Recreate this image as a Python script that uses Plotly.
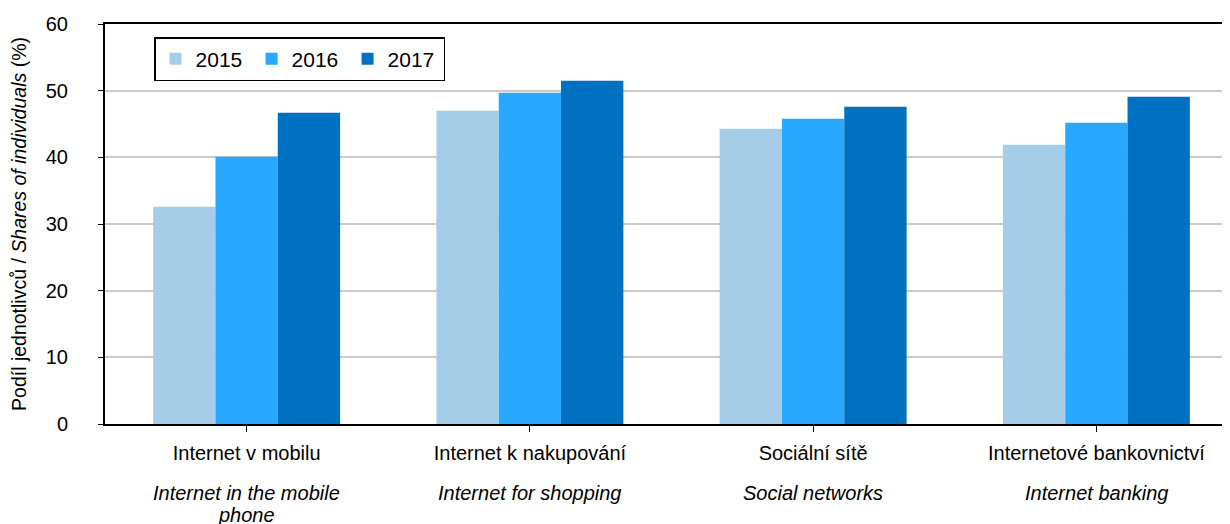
import plotly.graph_objects as go

categories_cz = ["Internet v mobilu", "Internet k nakupování", "Sociální sítě", "Internetové bankovnictví"]
categories_en = [["Internet in the mobile", "phone"], ["Internet for shopping"], ["Social networks"], ["Internet banking"]]
years = ["2015", "2016", "2017"]
values_2015 = [32.6, 47.0, 44.3, 41.9]
values_2016 = [40.1, 49.7, 45.8, 45.2]
values_2017 = [46.7, 51.5, 47.6, 49.1]
y_ticks = [0, 10, 20, 30, 40, 50, 60]

colors = ["#A6CDE8", "#29A8FF", "#0070C0"]
FONT = "Liberation Sans, Arial, sans-serif"

fig = go.Figure()
for year, vals, col in zip(years, [values_2015, values_2016, values_2017], colors):
    fig.add_trace(go.Bar(
        name=year,
        x=list(range(len(categories_cz))),
        y=vals,
        marker_color=col,
        marker_line_width=0
    ))

# english names in italics under the czech tick labels, one annotation per line
for i, lines in enumerate(categories_en):
    for j, line in enumerate(lines):
        fig.add_annotation(
            x=i, xref='x',
            y=-0.1725 - 0.055 * j, yref='paper',
            yanchor='middle',
            text=f"<i>{line}</i>",
            showarrow=False,
            font=dict(size=20)
        )

# the page has an 8px body margin, so the margins are offset by it;
# the plot area runs past the right edge like in the original
fig.update_layout(
    width=1230,
    height=524,
    margin=dict(l=97, r=0, t=16, b=108),
    barmode='group',
    bargap=0.34,
    bargroupgap=0,
    plot_bgcolor='white',
    paper_bgcolor='white',
    font=dict(family=FONT, size=20, color='black'),
    legend=dict(
        orientation='h',
        x=0.0433, y=0.9675,
        xanchor='left', yanchor='top',
        bgcolor='white',
        bordercolor='black',
        borderwidth=1.5,
        font=dict(size=21),
        entrywidth=51,
        entrywidthmode='pixels',
        traceorder='normal'
    ),
    showlegend=True
)

fig.update_xaxes(
    automargin=False,
    tickmode='array',
    tickvals=list(range(len(categories_cz))),
    ticktext=categories_cz,
    range=[-0.5, 3.5],
    showline=True,
    linecolor='black',
    linewidth=2,
    mirror=True,
    ticks='outside',
    tickson='boundaries',
    ticklen=6,
    tickcolor='black',
    tickfont=dict(size=20),
    ticklabelstandoff=4,
    showgrid=False
)

fig.update_yaxes(
    automargin=False,
    range=[0, 60],
    tickvals=y_ticks,
    showline=True,
    linecolor='black',
    linewidth=2,
    ticks='outside',
    ticklen=5,
    tickcolor='black',
    tickfont=dict(size=20),
    ticklabelstandoff=26,
    showgrid=True,
    gridcolor='#CACACA',
    gridwidth=1.5,
    zeroline=False,
    title=dict(
        text="Podíl jednotlivců / <i>Shares of individuals</i> (%)",
        font=dict(size=19.5),
        standoff=32
    )
)

fig.write_html("out.html")
